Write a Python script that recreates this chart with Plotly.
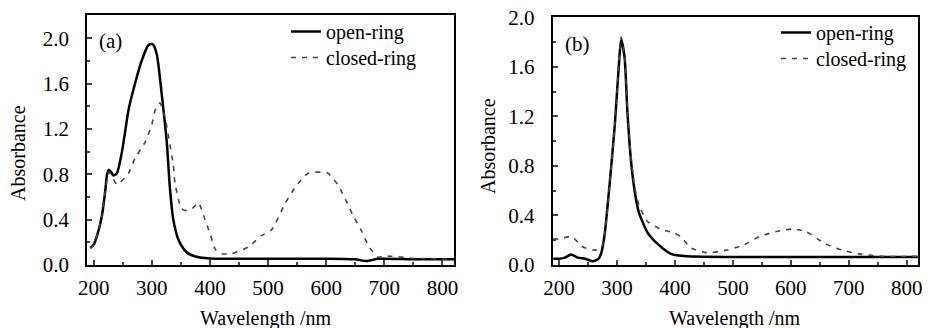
import plotly.graph_objects as go

# Panel (a)
a_open_x = [194, 200, 207, 214, 220, 223, 226, 230, 234, 240, 249, 260, 271, 283, 294, 300, 303, 309, 317, 326, 331, 337, 346, 355, 363, 375, 386, 420, 500, 600, 650, 669, 690, 750, 820]
a_open_y = [0.15, 0.18, 0.28, 0.43, 0.66, 0.80, 0.84, 0.82, 0.79, 0.81, 1.01, 1.37, 1.60, 1.81, 1.94, 1.95, 1.94, 1.85, 1.51, 1.07, 0.69, 0.40, 0.22, 0.14, 0.10, 0.075, 0.065, 0.055, 0.055, 0.055, 0.05, 0.035, 0.055, 0.05, 0.05]
a_closed_x = [194, 200, 207, 214, 220, 226, 232, 240, 260, 271, 289, 300, 306, 314, 323, 329, 337, 340, 351, 360, 370, 380, 391, 400, 409, 420, 437, 466, 489, 506, 529, 546, 569, 591, 603, 620, 634, 646, 660, 674, 689, 703, 750, 820]
a_closed_y = [0.15, 0.18, 0.28, 0.43, 0.66, 0.82, 0.78, 0.71, 0.81, 0.94, 1.09, 1.24, 1.37, 1.43, 1.29, 1.13, 0.88, 0.72, 0.50, 0.48, 0.50, 0.55, 0.41, 0.28, 0.14, 0.10, 0.10, 0.16, 0.26, 0.31, 0.54, 0.68, 0.81, 0.82, 0.81, 0.71, 0.57, 0.44, 0.31, 0.16, 0.07, 0.08, 0.06, 0.05]

# Panel (b)
b_open_x = [190, 200, 210, 221, 232, 245, 258, 268, 273, 279, 287, 296, 303, 307, 313, 318, 324, 330, 338, 353, 370, 393, 421, 500, 600, 700, 820]
b_open_y = [0.05, 0.05, 0.06, 0.085, 0.06, 0.05, 0.03, 0.05, 0.10, 0.26, 0.64, 1.12, 1.60, 1.82, 1.68, 1.23, 0.85, 0.61, 0.42, 0.26, 0.17, 0.09, 0.07, 0.065, 0.065, 0.065, 0.065]
b_closed_x = [190, 200, 222, 239, 262, 273, 279, 287, 296, 303, 307, 313, 318, 324, 330, 338, 353, 375, 398, 410, 427, 455, 489, 518, 546, 575, 603, 626, 660, 689, 717, 760, 820]
b_closed_y = [0.21, 0.21, 0.23, 0.15, 0.12, 0.14, 0.26, 0.64, 1.12, 1.62, 1.84, 1.69, 1.25, 0.88, 0.64, 0.48, 0.35, 0.29, 0.26, 0.23, 0.14, 0.10, 0.12, 0.16, 0.23, 0.27, 0.29, 0.27, 0.17, 0.12, 0.09, 0.07, 0.07]

x_ticks = [200, 300, 400, 500, 600, 700, 800]
y_ticks = [0.0, 0.4, 0.8, 1.2, 1.6, 2.0]
y_labels = ["0.0", "0.4", "0.8", "1.2", "1.6", "2.0"]

FONT = "Liberation Serif, Times New Roman, serif"
W, H = 928, 328
T, B = 15, 63
PH = H - T - B

fig = go.Figure()
open_style = dict(color="black", width=2.5, shape="spline", smoothing=0.6)
closed_style = dict(color="#444444", width=1.6, dash="5px,6px", shape="spline", smoothing=0.6)

fig.add_trace(go.Scatter(x=a_open_x, y=a_open_y, mode="lines", line=open_style, name="open-ring", xaxis="x", yaxis="y", legend="legend"))
fig.add_trace(go.Scatter(x=a_closed_x, y=a_closed_y, mode="lines", line=closed_style, name="closed-ring", xaxis="x", yaxis="y", legend="legend2"))
fig.add_trace(go.Scatter(x=b_open_x, y=b_open_y, mode="lines", line=open_style, name="open-ring", xaxis="x2", yaxis="y2", legend="legend3"))
fig.add_trace(go.Scatter(x=b_closed_x, y=b_closed_y, mode="lines", line=closed_style, name="closed-ring", xaxis="x2", yaxis="y2", legend="legend4"))

def xax(domain, anchor, rng):
    return dict(domain=domain, anchor=anchor, range=rng, tickvals=x_ticks, ticks="inside", ticklen=5, tickwidth=2,
                minor=dict(ticks="inside", dtick=50, tick0=200, ticklen=3, tickwidth=1.5),
                showline=True, linewidth=2, linecolor="black", mirror=True, showgrid=False, zeroline=False,
                automargin=False,
                tickfont=dict(family=FONT, size=21, color="black"), ticklabelstandoff=3)

def yax(domain, anchor, rng):
    return dict(domain=domain, anchor=anchor, range=rng, tickvals=y_ticks, ticktext=y_labels, ticks="inside", ticklen=5, tickwidth=2,
                minor=dict(ticks="inside", dtick=0.2, tick0=0, ticklen=3, tickwidth=1.5),
                showline=True, linewidth=2, linecolor="black", mirror=True, showgrid=False, zeroline=False,
                automargin=False,
                tickfont=dict(family=FONT, size=21, color="black"), ticklabelstandoff=12)

def px(x):
    return x / W

def py(y):
    return (H - B - y) / PH

def leg(x, y):
    return dict(x=px(x), y=py(y), xanchor="left", yanchor="top", bgcolor="rgba(0,0,0,0)",
                font=dict(family=FONT, size=20, color="black"), itemwidth=30)

fig.update_layout(
    width=W, height=H, margin=dict(l=0, r=0, t=T, b=B, autoexpand=False),
    paper_bgcolor="white", plot_bgcolor="white",
    xaxis=xax([px(87.3), px(454)], "y", [189, 820]),
    yaxis=yax([0, 1], "x", [0, 2.207]),
    xaxis2=xax([px(552.7), px(917.7)], "y2", [189, 819]),
    yaxis2=yax([0, py(17.3)], "x2", [0, 2.0]),
    legend=leg(286, 12),
    legend2=leg(286, 38),
    legend3=leg(776, 13),
    legend4=leg(776, 39),
    showlegend=True,
    annotations=[
        dict(text="(a)", x=px(97), y=py(41), xref="paper", yref="paper", xanchor="left", yanchor="middle", showarrow=False,
             font=dict(family=FONT, size=21, color="black")),
        dict(text="(b)", x=px(563), y=py(44), xref="paper", yref="paper", xanchor="left", yanchor="middle", showarrow=False,
             font=dict(family=FONT, size=21, color="black")),
        dict(text="Absorbance", x=px(18), y=py(153), xref="paper", yref="paper", xanchor="center", yanchor="middle", textangle=-90,
             showarrow=False, font=dict(family=FONT, size=20, color="black")),
        dict(text="Absorbance", x=px(488), y=py(146), xref="paper", yref="paper", xanchor="center", yanchor="middle", textangle=-90,
             showarrow=False, font=dict(family=FONT, size=20, color="black")),
        dict(text="Wavelength /nm", x=px(266), y=py(318), xref="paper", yref="paper", xanchor="center", yanchor="middle",
             showarrow=False, font=dict(family=FONT, size=20, color="black")),
        dict(text="Wavelength /nm", x=px(735), y=py(318), xref="paper", yref="paper", xanchor="center", yanchor="middle",
             showarrow=False, font=dict(family=FONT, size=20, color="black")),
    ],
)

fig.write_html("out.html", config={"displayModeBar": False},
               post_script="document.body.style.margin='0';document.body.style.overflow='hidden';")
